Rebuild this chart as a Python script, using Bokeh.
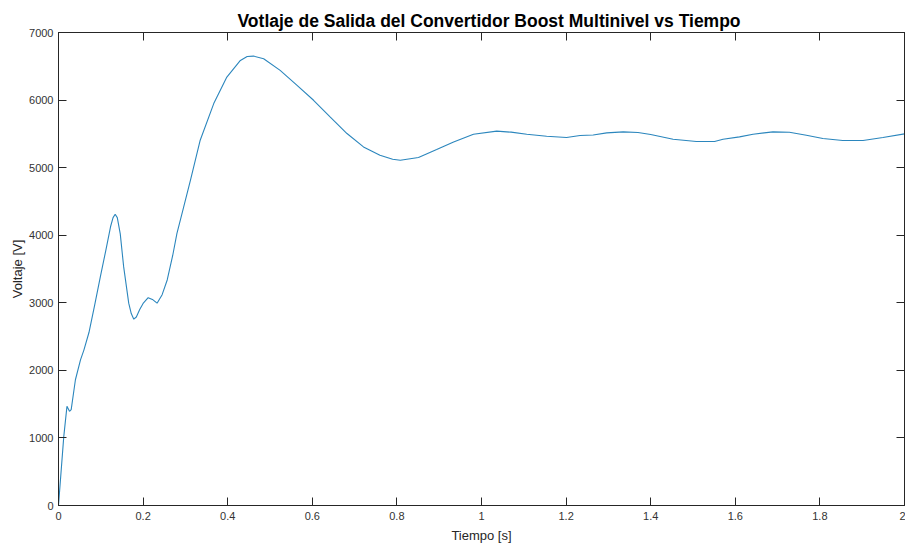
from bokeh.plotting import figure
from bokeh.models import LinearAxis, Range1d, FixedTicker, ColumnDataSource
from bokeh.embed import file_html
from bokeh.resources import INLINE

# ---- data ----
tiempo = [0.000, 0.0125, 0.020, 0.026, 0.030, 0.040, 0.052, 0.060, 0.072, 0.085, 0.099,
          0.112, 0.123, 0.129, 0.134, 0.139, 0.146, 0.154, 0.166, 0.172, 0.178, 0.184,
          0.192, 0.200, 0.212, 0.222, 0.233, 0.245, 0.257, 0.270, 0.280, 0.296, 0.312,
          0.335, 0.367, 0.398, 0.430, 0.446, 0.461, 0.485, 0.524, 0.564, 0.603, 0.642,
          0.682, 0.721, 0.760, 0.790, 0.808, 0.851, 0.894, 0.934, 0.981, 1.036, 1.070,
          1.107, 1.154, 1.201, 1.233, 1.264, 1.296, 1.335, 1.370, 1.400, 1.453, 1.508,
          1.551, 1.571, 1.610, 1.642, 1.689, 1.728, 1.768, 1.807, 1.854, 1.902, 1.949,
          2.000]
voltaje = [0, 1023, 1467, 1393, 1418, 1861, 2156, 2300, 2560, 2950, 3387,
           3780, 4125, 4260, 4310, 4260, 4020, 3535, 2994, 2840, 2757, 2790,
           2900, 2990, 3075, 3050, 2994, 3120, 3338, 3700, 4028, 4420, 4815,
           5406, 5948, 6341, 6587, 6645, 6651, 6612, 6440, 6218, 5997, 5750,
           5505, 5307, 5184, 5125, 5110, 5150, 5268, 5381, 5494, 5540, 5525,
           5494, 5465, 5446, 5475, 5484, 5514, 5530, 5519, 5490, 5421, 5387,
           5387, 5421, 5455, 5494, 5530, 5524, 5480, 5431, 5401, 5401, 5446,
           5500]
x_ticks = [0, 0.2, 0.4, 0.6, 0.8, 1, 1.2, 1.4, 1.6, 1.8, 2]
x_tick_labels = ["0", "0.2", "0.4", "0.6", "0.8", "1", "1.2", "1.4", "1.6", "1.8", "2"]
y_ticks = [0, 1000, 2000, 3000, 4000, 5000, 6000, 7000]

src = ColumnDataSource(data=dict(t=tiempo, v=voltaje))

FONT = "Liberation Sans"
AX = "#262626"

p = figure(width=905, height=545, output_backend="svg", toolbar_location=None,
           x_range=Range1d(0, 2), y_range=Range1d(0, 7000),
           min_border_left=58, min_border_right=1, min_border_top=32, min_border_bottom=39,
           title="Votlaje de Salida del Convertidor Boost Multinivel vs Tiempo")
p.background_fill_color = "white"
p.border_fill_color = "white"
p.outline_line_color = AX
p.outline_line_width = 1
p.xgrid.visible = False
p.ygrid.visible = False

p.title.text_font = FONT
p.title.text_font_size = "17.5px"
p.title.text_font_style = "bold"
p.title.text_color = "#000000"
p.title.align = "left"
p.title.offset = 179
p.title.standoff = 4

p.line("t", "v", source=src, line_color="#2b86bd", line_width=1.1)

def style(ax, labels=True):
    ax.axis_line_color = AX
    ax.axis_line_width = 1
    ax.major_tick_line_color = AX
    ax.major_tick_in = 8
    ax.major_tick_out = 0
    ax.minor_tick_line_color = None
    ax.major_label_text_font = FONT
    if labels:
        ax.major_label_text_font_size = "11px"
        ax.major_label_text_color = "#333333"
    else:
        ax.major_label_text_font_size = "1px"
        ax.major_label_text_color = None
    ax.axis_label_text_font = FONT
    ax.axis_label_text_font_size = "13px"
    ax.axis_label_text_font_style = "normal"
    ax.axis_label_text_color = "#262626"

xa = p.xaxis[0]
xa.ticker = FixedTicker(ticks=x_ticks)
xa.major_label_overrides = {t: l for t, l in zip(x_ticks, x_tick_labels)}
xa.axis_label = "Tiempo [s]"
style(xa)
xa.major_label_standoff = 6
xa.axis_label_standoff = 5

ya = p.yaxis[0]
ya.ticker = FixedTicker(ticks=y_ticks)
ya.axis_label = "Voltaje [V]"
style(ya)
ya.major_label_standoff = 5
ya.axis_label_standoff = 1

top = LinearAxis(ticker=FixedTicker(ticks=x_ticks), major_label_standoff=0)
style(top, labels=False)
p.add_layout(top, "above")
right = LinearAxis(ticker=FixedTicker(ticks=y_ticks), major_label_standoff=0)
style(right, labels=False)
p.add_layout(right, "right")

open("out.html", "w").write(file_html(p, INLINE))
